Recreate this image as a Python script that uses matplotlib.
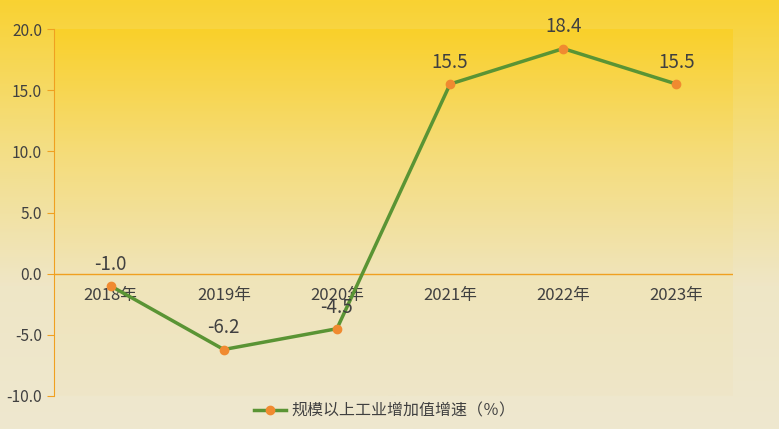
import matplotlib.pyplot as plt
import numpy as np
from matplotlib.colors import LinearSegmentedColormap

plt.rcParams['font.family'] = ['Noto Sans CJK SC', 'DejaVu Sans']

years = ["2018年", "2019年", "2020年", "2021年", "2022年", "2023年"]
growth = [-1.0, -6.2, -4.5, 15.5, 18.4, 15.5]
yticks = [-10.0, -5.0, 0.0, 5.0, 10.0, 15.0, 20.0]
series_name = "规模以上工业增加值增速（％）"

text_color = "#404040"
axis_color = "#F0A020"

fig = plt.figure(figsize=(7.79, 4.29), dpi=100)

# figure background gradient
bg = fig.add_axes([0, 0, 1, 1], zorder=-10)
bg_cmap = LinearSegmentedColormap.from_list("bg", ["#F9D232", "#F4DE82", "#EFE6C6", "#EEE8CF"])
bg.imshow(np.linspace(0, 1, 256).reshape(-1, 1), aspect="auto", cmap=bg_cmap,
          extent=[0, 1, 0, 1])
bg.set_axis_off()

ax = fig.add_axes([54 / 779, 1 - 396 / 429, (733 - 54) / 779, (396 - 29) / 429])
ax.patch.set_alpha(0)
plot_cmap = LinearSegmentedColormap.from_list("pl", ["#FAD02A", "#F5DC78", "#F0E4B8", "#EEE6C8"])
ax.imshow(np.linspace(0, 1, 256).reshape(-1, 1), aspect="auto", cmap=plot_cmap,
          extent=[0, 1, 0, 1], transform=ax.transAxes, zorder=0)

x = np.arange(len(years))
ax.plot(x, growth, color="#5A9434", linewidth=2.5, marker="o", markersize=6,
        markerfacecolor="#F08A30", markeredgecolor="#F08A30", label=series_name, zorder=3)

for xi, v in zip(x, growth):
    ax.annotate(f"{v:.1f}", (xi, v), xytext=(0, 8), textcoords="offset points",
                ha="center", va="bottom", fontsize=13.5, color=text_color, zorder=4)

ax.set_xlim(-0.5, len(years) - 0.5)
ax.set_ylim(-10, 20)
ax.set_yticks(yticks)
ax.set_yticklabels([f"{t:.1f}" for t in yticks])
ax.axhline(0, color=axis_color, linewidth=1, zorder=2)

ax.set_xticks([])
for xi, lab in zip(x, years):
    ax.text(xi, -1.1, lab, ha="center", va="top", fontsize=12, color=text_color, zorder=2)

for side in ["top", "right", "bottom"]:
    ax.spines[side].set_visible(False)
ax.spines["left"].set_color(axis_color)
ax.tick_params(axis="y", colors=axis_color, labelcolor=text_color, labelsize=11.2, length=5)

leg = fig.legend(loc="lower center", bbox_to_anchor=(0.494, -0.012), frameon=False,
                 fontsize=11.5, handlelength=2.0, handletextpad=0.3, labelcolor=text_color)

fig.savefig("out.png", dpi=100)
